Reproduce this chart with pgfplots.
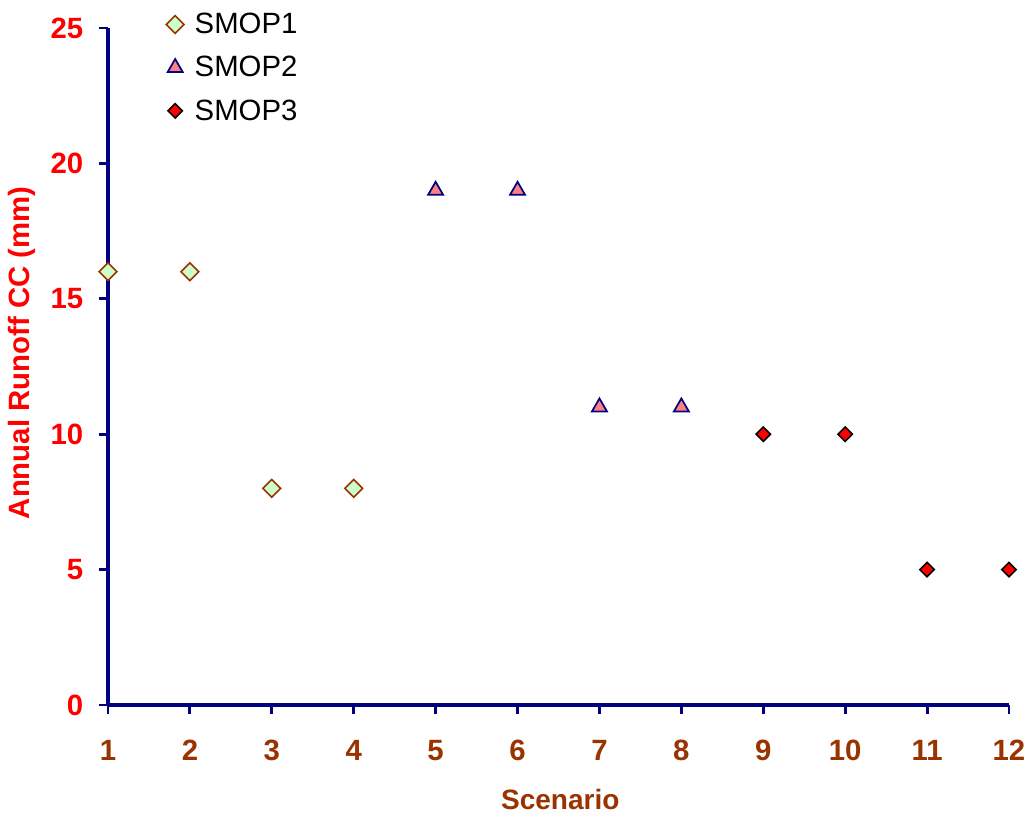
\documentclass[border=0pt]{standalone}
\usepackage{fontspec}
\setmainfont{Liberation Sans}
\usepackage{pgfplots}
\pgfplotsset{compat=1.18}
\definecolor{navyax}{RGB}{0,0,128}
\definecolor{brownlab}{RGB}{153,51,0}
\definecolor{lgreen}{RGB}{204,255,204}
\definecolor{lpink}{RGB}{255,128,128}
\begin{document}
\begin{tikzpicture}
\begin{axis}[
  name=a,
  scale only axis,
  width=675.75pt, height=507.75pt,
  xmin=1, xmax=12, ymin=0, ymax=25,
  xtick={1,...,12}, ytick={0,5,...,25},
  axis lines*=left,
  axis line style={navyax, line width=2.4pt},
  tick align=outside,
  xtick style={navyax, line width=2.2pt},
  ytick style={navyax, line width=2.2pt},
  major tick length=7pt,
  /pgf/number format/assume math mode=true,
  xticklabel style={font=\bfseries\fontsize{22}{26}\selectfont, text=brownlab, yshift=-16pt},
  yticklabel style={font=\bfseries\fontsize{22}{26}\selectfont, text=red, xshift=-8pt},
  xlabel={Scenario},
  ylabel={Annual Runoff CC (mm)},
  xlabel style={font=\bfseries\fontsize{21}{25}\selectfont, text=brownlab, at={(axis description cs:0.502,-0.140)}, anchor=center},
  ylabel style={font=\bfseries\fontsize{22}{26}\selectfont, text=red, at={(axis description cs:-0.0955,0.52)}, anchor=center},
  clip=false,
  legend style={at={(axis description cs:0.06,1.03)}, anchor=north west, draw=none, fill=none, font=\fontsize{22}{26}\selectfont, row sep=11.5pt, /tikz/every odd column/.append style={column sep=6pt}},
  legend cell align=left,
]
\addplot[only marks, mark=square*, mark size=4.7pt, mark options={rotate=45, fill=lgreen, draw=brownlab, line width=1.2pt}] coordinates {(1,16) (2,16) (3,8) (4,8)};
\addlegendentry{SMOP1}
\addplot[only marks, mark=triangle*, mark size=6.5pt, mark options={fill=lpink, draw=navyax, line width=1.3pt}] coordinates {(5,19) (6,19) (7,11) (8,11)};
\addlegendentry{SMOP2}
\addplot[only marks, mark=square*, mark size=3.8pt, mark options={rotate=45, fill=red, draw=black, line width=1.2pt}] coordinates {(9,10) (10,10) (11,5) (12,5)};
\addlegendentry{SMOP3}
\end{axis}
\pgfresetboundingbox
\path (a.south west) ++(-81pt,-81.75pt) rectangle ++(771.75pt,610.5pt);
\end{tikzpicture}
\end{document}
